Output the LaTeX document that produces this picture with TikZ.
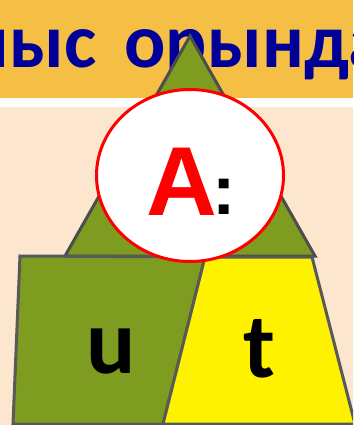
\documentclass[tikz,border=0pt]{standalone}
\usepackage{fontspec}
\setmainfont{Carlito}
\newfontfamily\arialfont{Liberation Sans}
\usetikzlibrary{shapes.geometric}
\definecolor{hdr}{HTML}{F4BF44}
\definecolor{peach}{HTML}{FCE6CE}
\definecolor{olive}{HTML}{7E9C1F}
\definecolor{ttl}{HTML}{000099}
\definecolor{edgegray}{HTML}{4D4D4D}
\definecolor{edgegray2}{HTML}{595959}
\newlength\titleoff
\newcommand\ttlfont{\bfseries\fontsize{77}{77}\selectfont}
\tikzset{
  piece/.style={draw=edgegray2, line width=3pt, line join=miter},
  letter/.style={inner sep=0pt, anchor=base, font=\bfseries\fontsize{92}{92}\selectfont, text=black}
}
\begin{document}
\settowidth{\titleoff}{\ttlfont Жұм}%
\begin{tikzpicture}[x=1pt,y=-1pt]
\useasboundingbox (0,0) rectangle (353,425);
\clip (0,0) rectangle (353,425);
\fill[peach] (0,0) rectangle (353,425);
\fill[white] (0,0) rectangle (353,107);
\fill[hdr] (0,0) rectangle (353,98);
\node (title) [anchor=base west, inner sep=0pt, text=ttl, font=\ttlfont] at (9pt-\titleoff,-68pt) {Жұмыс \kern11pt орындау};
\draw[piece, fill=olive, draw=edgegray] (190,36) -- (315,256) -- (65,256) -- cycle;
\draw[piece, fill=olive] (20,256) -- (205,257) -- (163,424) -- (13,424) -- cycle;
\draw[piece, fill=yellow] (205,257) -- (312,257) -- (355,424) -- (163,424) -- cycle;
\node (badge) [ellipse, draw=red, fill=white, line width=3pt, minimum width=187pt, minimum height=172pt, inner sep=0pt] at (190,175.5) {};
\node (a) [anchor=base west, inner sep=0pt, text=red, font=\arialfont\bfseries\fontsize{98}{98}\selectfont] at (146,215) {A};
\node (colon) [anchor=base west, inner sep=0pt, text=black, font=\arialfont\bfseries\fontsize{70}{70}\selectfont] at (212,214) {:};
\node (u) [letter] at (111,373) {u};
\node (t) [letter] at (259,377) {t};
\end{tikzpicture}
\end{document}
